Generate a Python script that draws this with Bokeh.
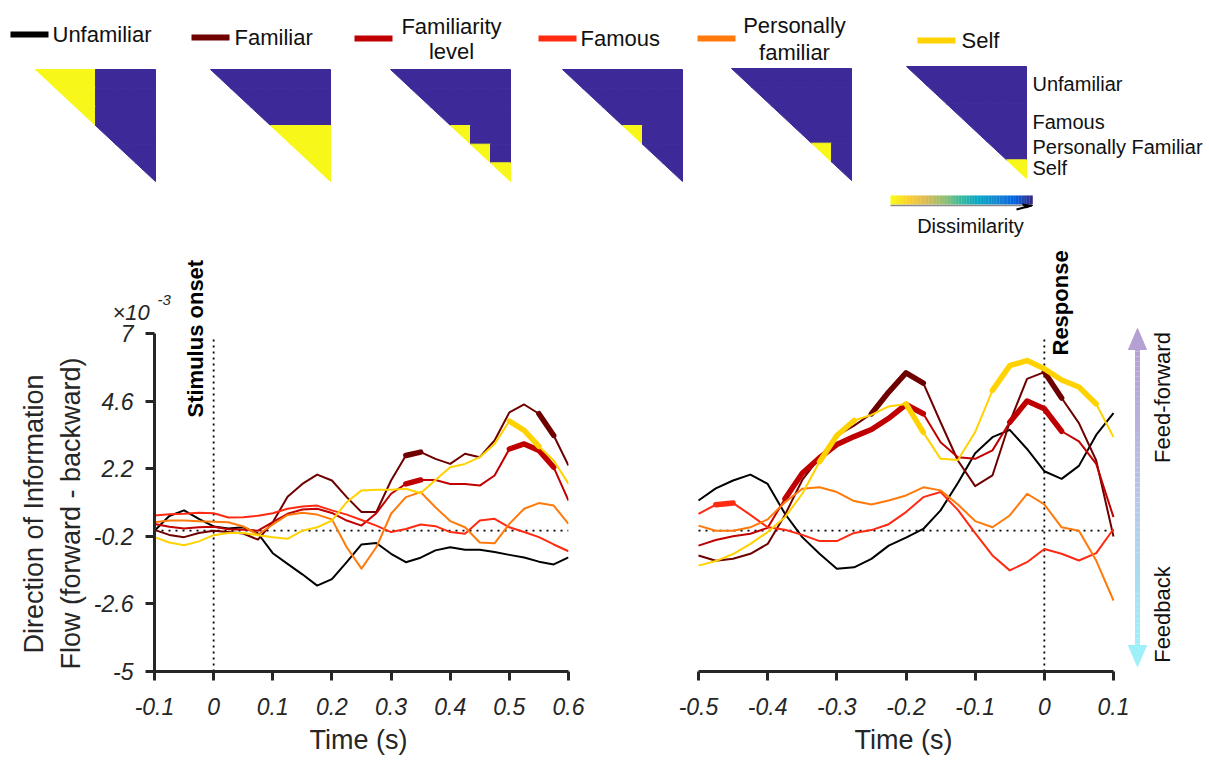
import numpy as np
from bokeh.plotting import figure
from bokeh.models import Range1d, FixedTicker, Label, Title
from bokeh.layouts import column, row
from bokeh.embed import file_html
from bokeh.resources import INLINE
from bokeh.core.properties import value

FONT = "Liberation Sans"
INK = "#262626"

# ---------------- data ----------------
series_names = ["Unfamiliar", "Familiar", "Familiarity level", "Famous", "Personally familiar", "Self"]
series_colors = ["#000000", "#6e0000", "#c00000", "#ff2a12", "#ff7a0a", "#ffd200"]

# time locked to stimulus onset (s); values x 10^-3
t_stim = [-0.1, -0.075, -0.05, -0.025, 0.0, 0.025, 0.05, 0.075, 0.1, 0.125, 0.15, 0.175, 0.2, 0.225,
          0.25, 0.275, 0.3, 0.325, 0.35, 0.375, 0.4, 0.425, 0.45, 0.475, 0.5, 0.525, 0.55, 0.575, 0.6]
stim_unfamiliar = [0.0, 0.52, 0.72, 0.42, 0.15, 0.08, 0.12, -0.1, -0.8, -1.18, -1.55, -1.95, -1.72, -1.12,
                   -0.49, -0.44, -0.82, -1.12, -0.96, -0.7, -0.59, -0.68, -0.68, -0.76, -0.86, -0.95, -1.1, -1.2, -0.95]
stim_familiar = [0.03, -0.15, -0.23, -0.08, 0.0, -0.05, -0.1, -0.32, 0.3, 1.2, 1.66, 1.99, 1.78, 1.19,
                 0.66, 0.66, 1.78, 2.67, 2.79, 2.55, 2.37, 2.73, 2.61, 3.2, 4.2, 4.48, 4.15, 3.38, 2.31]
stim_famlevel = [0.24, 0.14, 0.08, 0.12, 0.14, 0.05, 0.03, 0.0, 0.3, 0.6, 0.75, 0.78, 0.63, 0.36,
                 0.18, 0.62, 1.31, 1.66, 1.8, 1.8, 1.66, 1.66, 1.6, 1.96, 2.9, 3.08, 2.85, 2.25, 1.07]
stim_famous = [0.54, 0.58, 0.6, 0.64, 0.62, 0.47, 0.48, 0.53, 0.62, 0.78, 0.86, 0.89, 0.72, 0.57,
               0.38, 0.18, -0.05, 0.06, 0.22, 0.16, -0.05, -0.11, 0.36, 0.42, 0.12, -0.05, -0.23, -0.49, -0.73]
stim_personal = [0.3, 0.36, 0.36, 0.33, 0.32, 0.3, 0.15, -0.14, 0.22, 0.56, 0.64, 0.57, 0.4, -0.59,
                 -1.35, -0.59, 0.6, 1.19, 1.37, 0.83, 0.34, 0.12, -0.42, -0.45, 0.24, 0.78, 0.98, 0.89, 0.24]
stim_self = [-0.23, -0.42, -0.52, -0.38, -0.16, -0.08, -0.08, -0.16, -0.23, -0.29, 0.0, 0.12, 0.36, 1.01,
             1.43, 1.45, 1.45, 1.49, 1.33, 1.8, 2.25, 2.37, 2.61, 3.08, 3.89, 3.56, 2.99, 2.49, 1.66]

# time locked to response (s)
t_resp = [-0.5, -0.475, -0.45, -0.425, -0.4, -0.375, -0.35, -0.325, -0.3, -0.275, -0.25, -0.225, -0.2,
          -0.175, -0.15, -0.125, -0.1, -0.075, -0.05, -0.025, 0.0, 0.025, 0.05, 0.075, 0.1]
resp_unfamiliar = [1.07, 1.5, 1.78, 1.99, 1.66, 0.6, -0.23, -0.82, -1.35, -1.3, -1.0, -0.53, -0.25,
                   0.06, 0.72, 1.69, 2.75, 3.32, 3.58, 2.9, 2.11, 1.84, 2.3, 3.4, 4.17]
resp_familiar = [-0.88, -1.07, -1.0, -0.82, -0.47, 0.56, 1.8, 2.59, 3.37, 3.73, 4.15, 4.92, 5.6,
                 5.24, 3.85, 2.49, 1.58, 1.96, 3.85, 5.39, 5.63, 4.71, 3.82, 2.49, -0.21]
resp_famlevel = [-0.53, -0.33, -0.2, -0.11, 0.1, 1.13, 2.04, 2.59, 3.06, 3.34, 3.59, 3.99, 4.48,
                 4.15, 3.14, 2.61, 2.55, 2.85, 3.85, 4.6, 4.33, 3.53, 3.17, 2.37, 0.48]
resp_famous = [0.6, 0.92, 0.98, 0.56, 0.12, 0.03, -0.15, -0.37, -0.37, -0.08, 0.02, 0.23, 0.66,
               1.19, 1.37, 0.74, -0.09, -0.88, -1.41, -1.12, -0.65, -0.82, -1.06, -0.8, 0.06]
resp_personal = [0.18, 0.0, 0.0, 0.12, 0.4, 1.01, 1.49, 1.54, 1.37, 1.05, 0.93, 1.07, 1.25,
                 1.54, 1.43, 0.93, 0.34, 0.12, 0.54, 1.31, 0.93, 0.12, 0.0, -1.06, -2.48]
resp_self = [-1.24, -1.08, -0.83, -0.47, -0.05, 0.48, 1.31, 2.45, 3.38, 3.91, 4.11, 4.41, 4.5,
             3.49, 2.55, 2.51, 3.5, 4.98, 5.86, 6.04, 5.75, 5.35, 5.1, 4.5, 3.32]

# significant intervals (drawn thick)
stim_sig = {1: [(0.325, 0.35), (0.55, 0.575)], 2: [(0.325, 0.35), (0.5, 0.575)], 5: [(0.5, 0.55)]}
resp_sig = {1: [(-0.25, -0.175), (0.0, 0.025)], 2: [(-0.375, -0.175), (-0.05, 0.025)],
            3: [(-0.475, -0.45)], 5: [(-0.325, -0.275), (-0.2, -0.175), (-0.075, 0.075)]}

# axes
y_ticks = [-5.0, -2.6, -0.2, 2.2, 4.6, 7.0]
y_tick_labels = ["-5", "-2.6", "-0.2", "2.2", "4.6", "7"]
stim_ticks = [-0.1, 0.0, 0.1, 0.2, 0.3, 0.4, 0.5, 0.6]
stim_tick_labels = ["-0.1", "0", "0.1", "0.2", "0.3", "0.4", "0.5", "0.6"]
resp_ticks = [-0.5, -0.4, -0.3, -0.2, -0.1, 0.0, 0.1]
resp_tick_labels = ["-0.5", "-0.4", "-0.3", "-0.2", "-0.1", "0", "0.1"]
y_title_lines = ["Direction of Information", "Flow (forward - backward)"]
x_title = "Time (s)"

# model RDMs: groups (Unfamiliar takes half of the cells)
group_labels = ["Unfamiliar", "Famous", "Personally Familiar", "Self"]
cell_group = [0, 0, 0, 1, 2, 3]
model_similar_pairs = [
    [(0, 0)],
    [(1, 1), (1, 2), (1, 3), (2, 2), (2, 3), (3, 3)],
    [(1, 1), (2, 2), (3, 3)],
    [(1, 1)],
    [(2, 2)],
    [(3, 3)],
]
parula_rev = ["#f9fb0e", "#fcce2e", "#d9ba56", "#92bf73", "#38b99e", "#06a7c6", "#1485d4", "#0363e1", "#352a87"]
RDM_BLUE = "#3d2a98"
RDM_YELLOW = "#f7f71a"


def hex_rgb(h):
    return np.array([int(h[i:i + 2], 16) for i in (1, 3, 5)], dtype=float)


def rgb_hex(c):
    c = np.clip(np.round(c), 0, 255).astype(int)
    return "#%02x%02x%02x" % tuple(c)


def ramp(anchors, n):
    a = np.array([hex_rgb(h) for h in anchors])
    pos = np.linspace(0, 1, len(anchors))
    out = []
    for s in np.linspace(0, 1, n):
        out.append(rgb_hex([np.interp(s, pos, a[:, k]) for k in range(3)]))
    return out


def make_label(x, y, text, size, style="normal", angle=0.0, align="left", baseline="alphabetic",
               color=INK):
    return Label(x=x, y=y, text=text, text_font=FONT, text_font_size=size, text_font_style=style,
                 angle=angle, text_align=align, text_baseline=baseline, text_color=color)


def make_title(text, size, offset, standoff=0):
    return Title(text=text, align="left", offset=offset, standoff=standoff, vertical_align="bottom",
                 text_font=FONT, text_font_size=size, text_font_style="normal", text_color=INK)


# ---------------- top panel: legend + model RDMs ----------------
top = figure(width=1209, height=245, x_range=Range1d(0, 1209), y_range=Range1d(245, 0),
             output_backend="svg", toolbar_location=None, x_axis_location=None, y_axis_location=None,
             min_border=0)
top.outline_line_color = None
top.grid.visible = False

leg_x0 = [10, 191, 354, 538, 697, 917]
leg_y = [34, 37, 38, 38, 38, 40]
top.segment(x0=leg_x0, y0=leg_y, x1=[x + 38 for x in leg_x0], y1=leg_y,
            line_color=series_colors, line_width=6)
top.text(x=[52, 234, 580, 961], y=[34, 37, 38, 40],
         text=[series_names[0], series_names[1], series_names[3], series_names[5]],
         text_font=value(FONT), text_font_size="22px", text_color="#111111",
         text_align="left", text_baseline="middle")
top.text(x=[451, 451, 794, 794], y=[26, 51, 25, 52],
         text=["Familiarity", "level", "Personally", "familiar"],
         text_font=value(FONT), text_font_size="22px", text_color="#111111",
         text_align="center", text_baseline="middle")

mat_x = [35, 210, 390, 562, 731, 906]
mat_y = [69, 69, 69, 69, 68, 66]
MW, MH = 120.0, 112.0
n = len(cell_group)
pxs, pys, pcs = [], [], []
for m in range(6):
    cw, ch = MW / n, MH / n
    sim = set(model_similar_pairs[m])
    for i in range(n):
        for j in range(i, n):
            x0 = mat_x[m] + j * cw
            y0 = mat_y[m] + i * ch
            if i == j:
                xs = [x0, x0 + cw, x0 + cw]
                ys = [y0, y0, y0 + ch]
            else:
                xs = [x0, x0 + cw, x0 + cw, x0]
                ys = [y0, y0, y0 + ch, y0 + ch]
            g = (cell_group[i], cell_group[j])
            col = RDM_YELLOW if (g in sim or (g[1], g[0]) in sim) else RDM_BLUE
            pxs.append(xs)
            pys.append(ys)
            pcs.append(col)
top.patches(xs=pxs, ys=pys, fill_color=pcs, line_color=pcs, line_width=1.0)

top.text(x=[1032] * 4, y=[83, 121, 146, 167], text=group_labels,
         text_font=value(FONT), text_font_size="20px", text_color="#111111",
         text_align="left", text_baseline="middle")

# colour bar (dissimilarity)
cb = ramp(parula_rev, 90)
edges = np.linspace(890, 1032, len(cb) + 1)
top.quad(left=edges[:-1], right=edges[1:] + 0.3, top=195, bottom=204, fill_color=cb, line_color=None)
top.line([890, 1032], [205, 205], line_color="#8a8a8a", line_width=1.5)
top.line([1016, 1031], [209, 205], line_color="black", line_width=2)
top.patch([1022, 1032, 1025], [203.5, 205, 207.5], fill_color="black", line_color="black")
top.text(x=[970], y=[225], text=["Dissimilarity"], text_font=value(FONT), text_font_size="20px",
         text_color="#111111", text_align="center", text_baseline="middle")


# ---------------- axis styling ----------------
def style_axis(ax, ticks, labels, bounds):
    ax.ticker = FixedTicker(ticks=ticks)
    ax.major_label_overrides = {t: l for t, l in zip(ticks, labels)}
    ax.bounds = bounds
    ax.axis_line_width = 3
    ax.axis_line_color = INK
    ax.major_tick_line_width = 3
    ax.major_tick_line_color = INK
    ax.major_tick_out = 9
    ax.major_tick_in = 0
    ax.minor_tick_line_color = None
    ax.major_label_text_font = FONT
    ax.major_label_text_font_size = "23px"
    ax.major_label_text_font_style = "italic"
    ax.major_label_text_color = INK


def draw_series(p, t, series, sig):
    for k, (vals, colr) in enumerate(zip(series, series_colors)):
        p.line(t, vals, line_color=colr, line_width=2, line_join="round")
        for a, b in sig.get(k, []):
            idx = [i for i, tt in enumerate(t) if a - 1e-9 <= tt <= b + 1e-9]
            p.line([t[i] for i in idx], [vals[i] for i in idx], line_color=colr, line_width=5.5,
                   line_join="round", line_cap="round")


PX_Y = 338.0 / 12.0          # pixels per 10^-3 unit


def ly(Y):
    return 7 - (Y - 333) / PX_Y


# ---------------- left: stimulus-locked ----------------
PX_L = 414.0 / 0.7
left = figure(width=650, height=515, x_range=Range1d(-0.1, 0.6),
              y_range=Range1d(-5, -5 + 426 / PX_Y), output_backend="svg", toolbar_location=None,
              min_border_left=154, min_border_right=82, min_border_top=0, min_border_bottom=89)
left.outline_line_color = None
left.grid.visible = False
ya = left.yaxis[0]
style_axis(ya, y_ticks, y_tick_labels, (-5, 7))
ya.major_label_standoff = 12
style_axis(left.xaxis[0], stim_ticks, stim_tick_labels, (-0.1, 0.6))
left.xaxis[0].major_label_standoff = 17
# y-axis title lines as side-panel titles (offset along the axis like the reference)
left.add_layout(make_title(y_title_lines[1], "27px", offset=2, standoff=10), "left")
left.add_layout(make_title(y_title_lines[0], "27px", offset=18, standoff=0), "left")
left.add_layout(make_title(x_title, "27px", offset=309 - 154, standoff=10), "below")


def lx(X):
    return -0.1 + (X - 154) / PX_L


left.line([-0.1, 0.6], [0, 0], line_color="black", line_width=1.8, line_dash="2 5")
left.line([0, 0], [-5, ly(338)], line_color="black", line_width=1.8, line_dash="2 4")
draw_series(left, t_stim, [stim_unfamiliar, stim_familiar, stim_famlevel, stim_famous, stim_personal, stim_self],
            stim_sig)

# exponent of the y axis, kept in a side panel so that it is not clipped by the frame
left.add_layout(make_label(lx(112), ly(312), "\u00d710", "22px", style="italic"), "right")
left.add_layout(make_label(lx(157), ly(299), "-3", "15px", style="italic"), "right")
left.add_layout(make_label(lx(195), ly(417), "Stimulus onset", "22px", style="bold", angle=np.pi / 2,
                           color="black"))

# ---------------- right: response-locked ----------------
PX_R = 415.0 / 0.6
right = figure(width=559, height=515, x_range=Range1d(-0.5 - 48 / PX_R, -0.5 + 511 / PX_R),
               y_range=Range1d(-5, -5 + 426 / PX_Y), output_backend="svg", toolbar_location=None,
               y_axis_location=None, min_border_left=0, min_border_right=0, min_border_top=0,
               min_border_bottom=89)
right.outline_line_color = None
right.grid.visible = False
style_axis(right.xaxis[0], resp_ticks, resp_tick_labels, (-0.5, 0.1))
right.xaxis[0].major_label_standoff = 17
right.add_layout(make_title(x_title, "27px", offset=854 - 650, standoff=10), "below")


def rx(X):
    return -0.5 + (X - 698) / PX_R


right.line([-0.5, 0.1], [0, 0], line_color="black", line_width=1.8, line_dash="2 5")
right.line([0, 0], [-5, ly(338)], line_color="black", line_width=1.8, line_dash="2 4")
draw_series(right, t_resp, [resp_unfamiliar, resp_familiar, resp_famlevel, resp_famous, resp_personal, resp_self],
            resp_sig)

right.add_layout(make_label(rx(1060), ly(355), "Response", "22px", style="bold", angle=np.pi / 2,
                            color="black"))

# feed-forward / feedback arrow
top_col, bot_col = "#b5a0d4", "#9df0f8"
NSEG = 60
ys_px = np.linspace(346, 648, NSEG + 1)
shaft_cols = ramp([top_col, "#b9c6e8", bot_col], NSEG)
right.segment(x0=[rx(1137)] * NSEG, y0=[ly(v) for v in ys_px[:-1]], x1=[rx(1137)] * NSEG,
              y1=[ly(v) for v in ys_px[1:]], line_color=shaft_cols, line_width=5)
right.patch([rx(1128), rx(1137), rx(1146)], [ly(349), ly(328), ly(349)], fill_color=top_col, line_color=top_col)
right.patch([rx(1128), rx(1137), rx(1146)], [ly(645), ly(666), ly(645)], fill_color=bot_col, line_color=bot_col)
right.add_layout(make_label(rx(1162), ly(397), "Feed-forward", "22px", angle=np.pi / 2, align="center",
                            color="#111111"))
right.add_layout(make_label(rx(1162), ly(614), "Feedback", "22px", angle=np.pi / 2, align="center",
                            color="#111111"))

layout = column(top, row(left, right))
open("out.html", "w").write(file_html(layout, INLINE))
